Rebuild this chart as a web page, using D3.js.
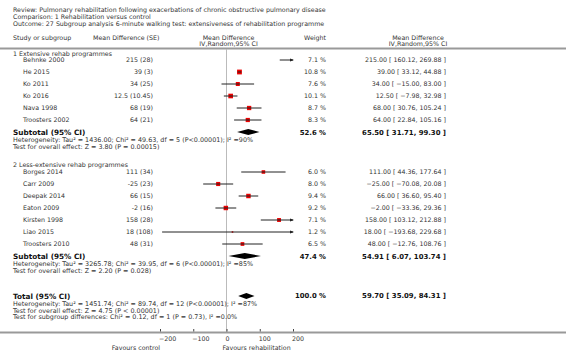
<!DOCTYPE html>
<html>
<head>
<meta charset="utf-8">
<script src="https://cdn.jsdelivr.net/npm/d3@7"></script>
<style>
  html, body { margin: 0; padding: 0; background: #fff; }
  svg { display: block; font-family: "DejaVu Sans", Verdana, sans-serif; }
</style>
</head>
<body>
<svg id="chart" width="566" height="356"></svg>
<script>
// ---------------- data ----------------
const titleLines = [
  "Review:  Pulmonary rehabilitation following exacerbations of chronic obstructive pulmonary disease",
  "Comparison:  1 Rehabilitation versus control",
  "Outcome:  27 Subgroup analysis 6-minute walking test: extensiveness of rehabilitation programme"
];
const groupNames = ["1 Extensive rehab programmes", "2 Less-extensive rehab programmes"];
const studyNames = ["Behnke 2000", "He 2015", "Ko 2011", "Ko 2016", "Nava 1998", "Troosters 2002",
                    "Borges 2014", "Carr 2009", "Deepak 2014", "Eaton 2009", "Kirsten 1998", "Liao 2015", "Troosters 2010"];
const studyGroup = [0, 0, 0, 0, 0, 0, 1, 1, 1, 1, 1, 1, 1];
const studyMD = [215, 39, 34, 12.5, 68, 64, 111, -25, 66, -2, 158, 18, 48];
const studySE = ["28", "3", "25", "10.45", "19", "21", "34", "23", "15", "16", "28", "108", "31"];
const studyWeight = [7.1, 10.8, 7.6, 10.1, 8.7, 8.3, 6.0, 8.0, 9.4, 9.2, 7.1, 1.2, 6.5];
const studyLower = [160.12, 33.12, -15.00, -7.98, 30.76, 22.84, 44.36, -70.08, 36.60, -33.36, 103.12, -193.68, -12.76];
const studyUpper = [269.88, 44.88, 83.00, 32.98, 105.24, 105.16, 177.64, 20.08, 95.40, 29.36, 212.88, 229.68, 108.76];

const subtotalWeight = [52.6, 47.4];
const subtotalMD = [65.50, 54.91];
const subtotalLower = [31.71, 6.07];
const subtotalUpper = [99.30, 103.74];
const subtotalHet = [
  "Heterogeneity: Tau\u00b2 = 1436.00; Chi\u00b2 = 49.63, df = 5 (P<0.00001); I\u00b2 =90%",
  "Heterogeneity: Tau\u00b2 = 3265.78; Chi\u00b2 = 39.95, df = 6 (P<0.00001); I\u00b2 =85%"
];
const subtotalTest = [
  "Test for overall effect: Z = 3.80 (P = 0.00015)",
  "Test for overall effect: Z = 2.20 (P = 0.028)"
];
const totalWeight = 100.0;
const totalMD = 59.70;
const totalLower = 35.09;
const totalUpper = 84.31;
const totalNotes = [
  "Heterogeneity: Tau\u00b2 = 1451.74; Chi\u00b2 = 89.74, df = 12 (P<0.00001); I\u00b2 =87%",
  "Test for overall effect: Z = 4.75 (P < 0.00001)",
  "Test for subgroup differences: Chi\u00b2 = 0.12, df = 1 (P = 0.73), I\u00b2 =0.0%"
];
const axisTicks = [-200, -100, 0, 100, 200];
const axisDomain = [-200, 200];
const favourLabels = ["Favours control", "Favours rehabilitation"];

// ---------------- layout ----------------
const svg = d3.select("#chart");
const W = 566;
const x = d3.scaleLinear().domain(axisDomain).range([160, 293]);
const fmt2 = d3.format(".2f");
const TXT = "#333";
const regSize = 6.3, noteSize = 6.4, boldSize = 7.3, boldNum = 6.9;

const colName = 13, colIndent = 23, colSE = 153, colWeight = 326, colCI = 446;

function text(xp, yc, str, opts = {}) {
  return svg.append("text")
    .attr("x", xp).attr("y", yc)
    .attr("dy", "0.35em")
    .attr("font-size", opts.size || regSize)
    .attr("font-weight", opts.bold ? "bold" : "normal")
    .attr("text-anchor", opts.anchor || "start")
    .attr("fill", opts.color || TXT)
    .text(str);
}

// title
titleLines.forEach((t, i) => text(colName, 10 + i * 7, t));

// headers
text(colName, 38, "Study or subgroup");
text(93, 38, "Mean Difference (SE)");
text(x(0) + 2, 38, "Mean Difference", {anchor: "middle"});
text(x(0) + 2, 44, "IV,Random,95% CI", {anchor: "middle"});
text(colWeight, 38, "Weight", {anchor: "end"});
text(418, 38, "Mean Difference", {anchor: "middle"});
text(418, 44, "IV,Random,95% CI", {anchor: "middle"});

// separator line
svg.append("line").attr("x1", 0).attr("x2", W).attr("y1", 48.5).attr("y2", 48.5)
  .attr("stroke", "#999").attr("stroke-width", 2);

const axisY = 332.5;

// zero line
svg.append("line").attr("x1", x(0)).attr("x2", x(0)).attr("y1", 49).attr("y2", axisY)
  .attr("stroke", "#bbb").attr("stroke-width", 1);

const groupHeaderY = [54, 165];
const firstRowY = [60, 172];
const rowStep = 12;

function ciLine(yc, lo, hi) {
  const [dmin, dmax] = axisDomain;
  const x1 = x(Math.max(lo, dmin)), x2 = x(Math.min(hi, dmax));
  svg.append("line").attr("x1", x1).attr("x2", x2).attr("y1", yc).attr("y2", yc)
    .attr("stroke", "#222").attr("stroke-width", 1);
  if (hi > dmax) {
    svg.append("path")
      .attr("d", `M${x2 + 1},${yc} L${x2 - 3},${yc - 1.6} L${x2 - 3},${yc + 1.6} Z`)
      .attr("fill", "#222");
  }
  if (lo < dmin) {
    svg.append("path")
      .attr("d", `M${x1 - 1},${yc} L${x1 + 3},${yc - 1.6} L${x1 + 3},${yc + 1.6} Z`)
      .attr("fill", "#222");
  }
}

function diamond(yc, md, lo, hi) {
  svg.append("path")
    .attr("d", `M${x(lo)},${yc} L${x(md)},${yc - 3} L${x(hi)},${yc} L${x(md)},${yc + 3} Z`)
    .attr("fill", "#000");
}

const sqSize = d3.scaleSqrt().domain([0, 10.8]).range([0, 4.8]);

[0, 1].forEach(g => {
  text(colName, groupHeaderY[g], groupNames[g]);
  const idx = studyNames.map((_, i) => i).filter(i => studyGroup[i] === g);
  idx.forEach((i, k) => {
    const yc = firstRowY[g] + k * rowStep;
    text(colIndent, yc, studyNames[i]);
    text(colSE, yc, `${studyMD[i]} (${studySE[i]})`, {anchor: "end"});
    text(colWeight, yc, `${studyWeight[i].toFixed(1)} %`, {anchor: "end"});
    text(colCI, yc, `${fmt2(studyMD[i])} [ ${fmt2(studyLower[i])}, ${fmt2(studyUpper[i])} ]`, {anchor: "end"});
    const md = studyMD[i];
    if (md >= axisDomain[0] && md <= axisDomain[1]) {
      const s = sqSize(studyWeight[i]);
      svg.append("rect").attr("x", x(md) - s / 2).attr("y", yc - s / 2)
        .attr("width", s).attr("height", s).attr("fill", "#e00");
    }
    ciLine(yc, studyLower[i], studyUpper[i]);
  });
  const sy = firstRowY[g] + idx.length * rowStep;
  text(colName, sy + 0.5, "Subtotal (95% CI)", {bold: true, size: boldSize, color: "#111"});
  text(colWeight, sy + 0.5, `${subtotalWeight[g].toFixed(1)} %`, {bold: true, size: boldNum, anchor: "end", color: "#111"});
  text(colCI, sy + 0.5, `${fmt2(subtotalMD[g])} [ ${fmt2(subtotalLower[g])}, ${fmt2(subtotalUpper[g])} ]`, {bold: true, size: boldNum, anchor: "end", color: "#111"});
  diamond(sy, subtotalMD[g], subtotalLower[g], subtotalUpper[g]);
  text(colName, sy + 8, subtotalHet[g], {size: noteSize});
  text(colName, sy + 14.5, subtotalTest[g], {size: noteSize});
});

// total
const ty = 296;
text(colName, ty, "Total (95% CI)", {bold: true, size: boldSize, color: "#111"});
text(colWeight, ty, `${totalWeight.toFixed(1)} %`, {bold: true, size: boldNum, anchor: "end", color: "#111"});
text(colCI, ty, `${fmt2(totalMD)} [ ${fmt2(totalLower)}, ${fmt2(totalUpper)} ]`, {bold: true, size: boldNum, anchor: "end", color: "#111"});
diamond(ty, totalMD, totalLower, totalUpper);
totalNotes.forEach((t, i) => text(colName, ty + 8 + i * 6.5, t, {size: noteSize}));

// axis
svg.append("line").attr("x1", 0).attr("x2", W).attr("y1", axisY).attr("y2", axisY)
  .attr("stroke", "#999").attr("stroke-width", 2);
const axisG = svg.append("g").attr("transform", `translate(0,${axisY - 1})`)
  .call(d3.axisBottom(x).tickValues(axisTicks).tickSize(-2.5).tickPadding(5.5).tickFormat(d3.format("d")));
axisG.select(".domain").remove();
axisG.selectAll(".tick line").attr("stroke", "#444");
axisG.selectAll(".tick text")
  .attr("text-anchor", "start").attr("dx", -1.5)
  .attr("font-size", regSize).attr("font-family", "DejaVu Sans, Verdana, sans-serif")
  .attr("fill", TXT);

text(x(axisDomain[0]), 347.5, favourLabels[0], {anchor: "end"});
text(x(0) - 4, 347.5, favourLabels[1]);
</script>
</body>
</html>
